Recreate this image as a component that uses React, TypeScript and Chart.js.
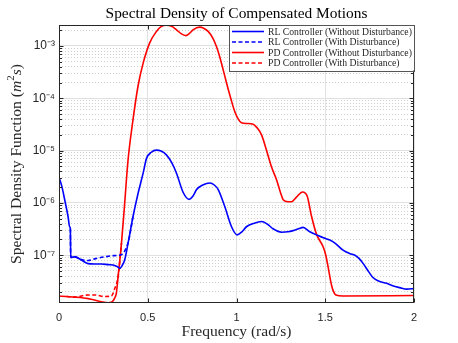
import React, { useEffect, useRef } from "react";
import { Chart, registerables } from "chart.js";

Chart.register(...registerables);

const chartTitle = "Spectral Density of Compensated Motions";
const xAxisTitle = "Frequency (rad/s)";
const seriesLabels = [
  "RL Controller (Without Disturbance)",
  "RL Controller (With Disturbance)",
  "PD Controller (Without Disturbance)",
  "PD Controller (With Disturbance)",
];
const xTicks = [0, 0.5, 1, 1.5, 2];
const yMin = 1.22e-8;
const yMax = 2.52e-3;

// RL controller, without disturbance
const rlFreq = [
  0.0, 0.017, 0.032, 0.051, 0.06, 0.064, 0.066, 0.089, 0.126, 0.164, 0.2, 0.239, 0.28, 0.305, 0.33,
  0.342, 0.355, 0.37, 0.389, 0.417, 0.445, 0.474, 0.493, 0.52, 0.549, 0.575, 0.605, 0.635, 0.662,
  0.699, 0.733, 0.755, 0.775, 0.81, 0.85, 0.875, 0.897, 0.934, 0.972, 1.003, 1.03, 1.056, 1.1, 1.141,
  1.175, 1.206, 1.254, 1.29, 1.319, 1.35, 1.375, 1.413, 1.451, 1.49, 1.526, 1.56, 1.6, 1.64, 1.667,
  1.69, 1.714, 1.745, 1.77, 1.8, 1.846, 1.88, 1.92, 1.96, 2.0,
];
const rlPsd = [
  3.1e-6, 2.0e-6, 1.15e-6, 5.5e-7, 3.5e-7, 3.2e-7, 9.1e-8, 9.3e-8, 8.1e-8, 6.9e-8, 6.8e-8, 6.8e-8,
  6.6e-8, 6.5e-8, 6.0e-8, 5.6e-8, 6.3e-8, 8.1e-8, 1.7e-7, 5.5e-7, 1.5e-6, 3.7e-6, 7.1e-6, 9.3e-6,
  1.02e-5, 9.8e-6, 8.3e-6, 5.9e-6, 3.7e-6, 1.6e-6, 1.17e-6, 1.35e-6, 1.8e-6, 2.2e-6, 2.4e-6, 2.2e-6,
  1.8e-6, 8.5e-7, 3.5e-7, 2.45e-7, 2.8e-7, 3.5e-7, 4.1e-7, 4.4e-7, 3.9e-7, 3.2e-7, 2.75e-7, 2.8e-7,
  2.95e-7, 3.2e-7, 3.4e-7, 2.8e-7, 2.45e-7, 2.15e-7, 1.95e-7, 1.65e-7, 1.25e-7, 1.07e-7, 1.0e-7,
  8.7e-8, 6.9e-8, 4.8e-8, 3.7e-8, 3.2e-8, 2.9e-8, 2.6e-8, 2.4e-8, 2.25e-8, 2.3e-8,
];

// RL controller, with disturbance (differs only at low frequency)
const rlDistFreq = [0.064, 0.066, 0.089, 0.126, 0.164, 0.201, 0.258, 0.305, 0.342, 0.37, 0.393, 0.417];
const rlDistPsd = [3.2e-7, 9.1e-8, 9.3e-8, 8.3e-8, 7.9e-8, 8.5e-8, 9.3e-8, 9.8e-8, 1.0e-7, 1.2e-7, 1.95e-7, 5.5e-7];

// PD controller, without disturbance
const pdFreq = [
  0.0, 0.042, 0.089, 0.164, 0.239, 0.276, 0.295, 0.305, 0.315, 0.323, 0.333, 0.352, 0.37, 0.389,
  0.417, 0.445, 0.474, 0.511, 0.549, 0.575, 0.605, 0.635, 0.662, 0.69, 0.714, 0.735, 0.755, 0.793,
  0.815, 0.84, 0.865, 0.887, 0.905, 0.925, 0.945, 0.962, 0.99, 1.01, 1.028, 1.06, 1.094, 1.115,
  1.141, 1.169, 1.197, 1.226, 1.25, 1.263, 1.29, 1.31, 1.338, 1.372, 1.398, 1.423, 1.451, 1.488,
  1.503, 1.516, 1.535, 1.55, 1.56, 1.601, 2.0,
];
const pdPsd = [
  1.66e-8, 1.62e-8, 1.58e-8, 1.48e-8, 1.29e-8, 1.23e-8, 1.26e-8, 1.35e-8, 1.55e-8, 1.86e-8, 3.9e-8,
  1.7e-7, 9.8e-7, 6.6e-6, 3.9e-5, 1.7e-4, 4.7e-4, 1.15e-3, 1.9e-3, 2.35e-3, 2.5e-3, 2.38e-3, 2.04e-3,
  1.7e-3, 1.58e-3, 1.74e-3, 2.04e-3, 2.29e-3, 2.19e-3, 1.9e-3, 1.45e-3, 9.8e-4, 6.3e-4, 3.5e-4,
  1.9e-4, 1.17e-4, 5.6e-5, 4.0e-5, 3.4e-5, 3.3e-5, 3.2e-5, 2.75e-5, 2.0e-5, 1.02e-5, 4.9e-6, 2.75e-6,
  1.5e-6, 1.15e-6, 1.05e-6, 1.05e-6, 1.29e-6, 1.62e-6, 1.35e-6, 5.5e-7, 2.5e-7, 1.45e-7, 1.0e-7,
  6.0e-8, 2.7e-8, 1.9e-8, 1.74e-8, 1.66e-8, 1.7e-8,
];

// PD controller, with disturbance (differs only at low frequency)
const pdDistFreq = [0.042, 0.089, 0.164, 0.201, 0.258, 0.295, 0.314, 0.333, 0.352];
const pdDistPsd = [1.62e-8, 1.58e-8, 1.74e-8, 1.74e-8, 1.62e-8, 1.66e-8, 2.3e-8, 3.9e-8, 1.7e-7];

const BLUE = "#0000ff";
const RED = "#ff0000";
const AXIS = "#262626";

const toPoints = (xs: number[], ys: number[]) => xs.map((x, i) => ({ x, y: ys[i] }));

const isDecade = (v: number) => {
  const e = Math.log10(v);
  return Math.abs(e - Math.round(e)) < 1e-6;
};

const supMap: Record<string, string> = {
  "-": "\u207B", "0": "\u2070", "1": "\u00B9", "2": "\u00B2", "3": "\u00B3", "4": "\u2074",
  "5": "\u2075", "6": "\u2076", "7": "\u2077", "8": "\u2078", "9": "\u2079",
};
const sup = (n: number) => String(n).split("").map((c) => supMap[c] || c).join("");

const fitSize = (ctx: CanvasRenderingContext2D, text: string, font: string, target: number) => {
  ctx.font = `20px ${font}`;
  const w = ctx.measureText(text).width;
  return (20 * target) / w;
};

const SERIF = '"Liberation Serif", serif';

const decorPlugin = {
  id: "decor",
  afterDatasetsDraw(chart: any) {
    const { ctx, chartArea: a, scales } = chart;
    ctx.save();
    ctx.strokeStyle = AXIS;
    ctx.lineWidth = 1;
    const L = Math.round(a.left) + 0.5;
    const R = Math.round(a.right) - 0.5;
    const T = Math.round(a.top) + 0.5;
    const B = Math.round(a.bottom) - 0.5;
    const line = (x1: number, y1: number, x2: number, y2: number) => {
      ctx.beginPath();
      ctx.moveTo(x1, y1);
      ctx.lineTo(x2, y2);
      ctx.stroke();
    };
    const ys = scales.y;
    ys.ticks.forEach((t: any) => {
      const p = Math.round(ys.getPixelForValue(t.value)) + 0.5;
      const len = isDecade(t.value) ? 4 : 2.5;
      line(L, p, L + len, p);
      line(R, p, R - len, p);
    });
    const xs = scales.x;
    xTicks.forEach((v) => {
      const p = Math.round(xs.getPixelForValue(v)) + 0.5;
      line(p, B, p, B - 4);
      line(p, T, p, T + 4);
    });
    ctx.strokeRect(L, T, R - L, B - T);
    ctx.restore();
  },
  afterDraw(chart: any) {
    const { ctx, chartArea: a } = chart;
    ctx.save();
    ctx.fillStyle = "#000";
    // Title
    const ts = fitSize(ctx, chartTitle, SERIF, 262);
    ctx.font = `${ts}px ${SERIF}`;
    ctx.textAlign = "center";
    ctx.textBaseline = "alphabetic";
    ctx.fillText(chartTitle, (a.left + a.right) / 2, 18);

    // X axis title
    ctx.fillStyle = AXIS;
    const xs = fitSize(ctx, xAxisTitle, SERIF, 110);
    ctx.font = `${xs}px ${SERIF}`;
    ctx.fillText(xAxisTitle, (a.left + a.right) / 2, 336);

    // Y axis title with italic m and s
    const parts = [
      { t: "Spectral Density Function (", it: false, sup: false },
      { t: "m", it: true, sup: false },
      { t: "2", it: false, sup: true },
      { t: "s", it: true, sup: false },
      { t: ")", it: false, sup: false },
    ];
    const fs = 14;
    const fontFor = (p: any) => `${p.it ? "italic " : ""}${p.sup ? fs * 0.7 : fs}px ${SERIF}`;
    let total = 0;
    const widths = parts.map((p) => {
      ctx.font = fontFor(p);
      const w = ctx.measureText(p.t).width;
      total += w;
      return w;
    });
    const scale = 200 / total;
    ctx.translate(20.5, (a.top + a.bottom) / 2);
    ctx.rotate(-Math.PI / 2);
    ctx.textAlign = "left";
    let xpos = -(total * scale) / 2;
    parts.forEach((p, i) => {
      const size = (p.sup ? fs * 0.7 : fs) * scale;
      ctx.font = `${p.it ? "italic " : ""}${size}px ${SERIF}`;
      ctx.fillText(p.t, xpos, p.sup ? -fs * scale * 0.4 : 0);
      xpos += widths[i] * scale;
    });
    ctx.restore();

    // Legend
    ctx.save();
    const boxR = a.right + 1;
    const boxT = a.top;
    const boxL = boxR - 186;
    const boxB = boxT + 45.5;
    ctx.fillStyle = "#ffffff";
    ctx.fillRect(boxL, boxT, boxR - boxL, boxB - boxT);
    ctx.strokeStyle = "#555555";
    ctx.lineWidth = 1;
    ctx.strokeRect(Math.round(boxL) + 0.5, Math.round(boxT) + 0.5, Math.round(boxR - boxL) - 1, Math.round(boxB - boxT));
    const ls = fitSize(ctx, seriesLabels[0], SERIF, 144);
    ctx.font = `${ls}px ${SERIF}`;
    ctx.textBaseline = "middle";
    ctx.textAlign = "left";
    const colors = [BLUE, BLUE, RED, RED];
    const dashes = [[], [4, 2.5], [], [4, 2.5]];
    seriesLabels.forEach((lab, i) => {
      const cy = boxT + 6.5 + i * 10.5;
      ctx.strokeStyle = colors[i];
      ctx.lineWidth = 1.6;
      ctx.setLineDash(dashes[i]);
      ctx.beginPath();
      ctx.moveTo(boxL + 3, cy);
      ctx.lineTo(boxL + 35, cy);
      ctx.stroke();
      ctx.setLineDash([]);
      ctx.fillStyle = AXIS;
      ctx.fillText(lab, boxL + 39, cy + 0.5);
    });
    ctx.restore();
  },
};

export default function App() {
  const ref = useRef<HTMLCanvasElement | null>(null);
  useEffect(() => {
    document.body.style.margin = "0";
    const canvas = ref.current;
    if (!canvas) return;
    const ds = (label: string, xs: number[], ys: number[], color: string, dash: number[]) => ({
      label,
      data: toPoints(xs, ys),
      borderColor: color,
      backgroundColor: color,
      borderWidth: 1.6,
      borderDash: dash,
      pointRadius: 0,
      fill: false,
      cubicInterpolationMode: "monotone" as const,
    });
    const chart = new Chart(canvas, {
      type: "line",
      data: {
        datasets: [
          ds(seriesLabels[0], rlFreq, rlPsd, BLUE, []),
          ds(seriesLabels[1], rlDistFreq, rlDistPsd, BLUE, [4, 2.5]),
          ds(seriesLabels[2], pdFreq, pdPsd, RED, []),
          ds(seriesLabels[3], pdDistFreq, pdDistPsd, RED, [4, 2.5]),
        ],
      },
      options: {
        responsive: false,
        animation: false,
        layout: { padding: { top: 25, right: 44, left: 0, bottom: 0 } },
        plugins: {
          legend: { display: false },
          title: { display: false },
          tooltip: { enabled: false },
        },
        scales: {
          x: {
            type: "linear",
            min: 0,
            max: 2,
            afterBuildTicks: (s: any) => {
              s.ticks = xTicks.map((v) => ({ value: v }));
            },
            afterFit: (s: any) => {
              s.height = 40;
            },
            grid: { color: "#e2e2e2", drawTicks: false, lineWidth: 1 },
            border: { display: false },
            ticks: {
              padding: 8,
              autoSkip: false,
              maxRotation: 0,
              color: AXIS,
              font: { family: '"Liberation Sans", Arial, sans-serif', size: 11 },
              callback: (v: any) => String(v),
            },
          },
          y: {
            type: "logarithmic",
            min: yMin,
            max: yMax,
            afterBuildTicks: (s: any) => {
              const t: any[] = [];
              for (let n = -9; n <= -2; n++) {
                for (let k = 1; k <= 9; k++) {
                  const v = k * Math.pow(10, n);
                  if (v >= yMin && v <= yMax) t.push({ value: v, major: k === 1 });
                }
              }
              s.ticks = t;
            },
            afterFit: (s: any) => {
              s.width = 59;
            },
            grid: {
              drawTicks: false,
              lineWidth: 1,
              color: (c: any) => (c.tick && isDecade(c.tick.value) ? "#e0e0e0" : "#cfcfcf"),
            },
            border: {
              display: false,
              dash: (c: any) => (c.tick && !isDecade(c.tick.value) ? [1, 2] : []),
            },
            ticks: {
              padding: 4,
              autoSkip: false,
              color: AXIS,
              font: { family: '"Liberation Sans", Arial, sans-serif', size: 12 },
              callback: (v: any) => {
                const val = Number(v);
                if (!isDecade(val)) return "";
                return "10" + sup(Math.round(Math.log10(val)));
              },
            },
          },
        },
      },
      plugins: [decorPlugin],
    } as any);
    return () => chart.destroy();
  }, []);
  return (
    <div style={{ width: 458, height: 343 }}>
      <canvas ref={ref} width={458} height={343} style={{ display: "block" }} />
    </div>
  );
}
